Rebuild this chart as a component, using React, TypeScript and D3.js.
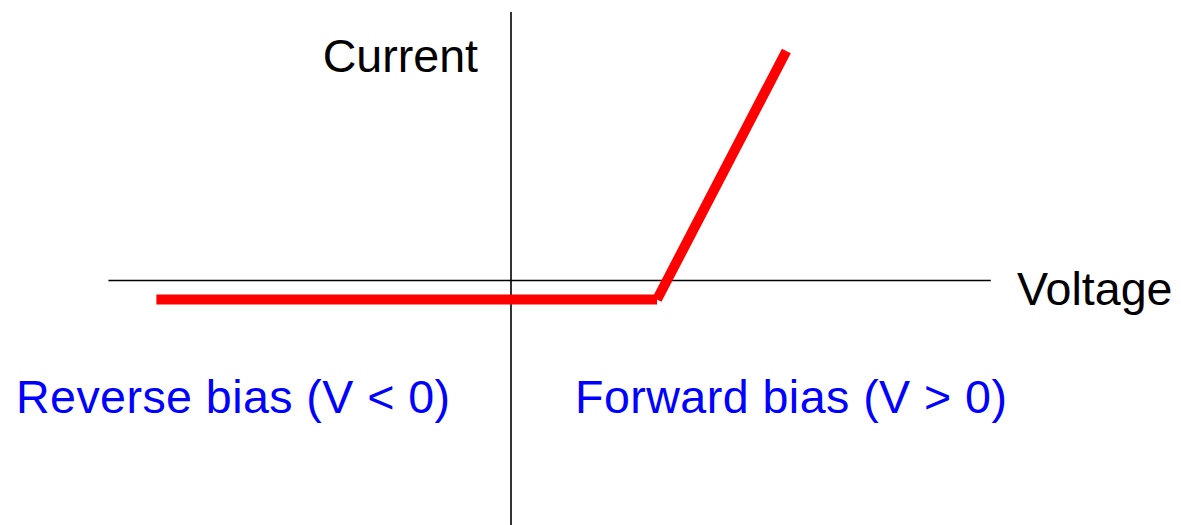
import React from "react";
import * as d3 from "d3";

// Idealised diode I-V characteristic (piecewise linear)
const voltages = [-1.7, 0.7, 1.32];
const currents = [-0.83, -0.83, 10];
const axisLabels = ["Current", "Voltage"];
const regionLabels = ["Reverse bias (V < 0)", "Forward bias (V > 0)"];

const W = 1181;
const H = 525;

export default function App() {
  const x = d3.scaleLinear().domain([0, 1]).range([511, 511 + 208.6]);
  const y = d3.scaleLinear().domain([0, 10]).range([280.5, 51]);

  const pts: [number, number][] = voltages.map((v, i) => [x(v), y(currents[i])]);
  const line = d3.line<[number, number]>();
  const seg1 = line([pts[0], pts[1]]) || "";
  const seg2 = line([pts[1], pts[2]]) || "";

  const font = "'Liberation Sans', Arial, sans-serif";

  return (
    <svg
      width={W}
      height={H}
      style={{ position: "absolute", left: 0, top: 0, background: "#fff" }}
      fontFamily={font}
    >
      {/* axes */}
      <line x1={x(-1.93)} x2={x(2.3)} y1={y(0)} y2={y(0)} stroke="#000" strokeWidth={1.6} />
      <line x1={x(0)} x2={x(0)} y1={12} y2={H} stroke="#000" strokeWidth={1.6} />

      {/* I-V curve */}
      <path d={seg1} stroke="#ff0000" strokeWidth={10} fill="none" strokeLinecap="butt" />
      <path d={seg2} stroke="#ff0000" strokeWidth={10} fill="none" strokeLinecap="butt" />

      {/* labels */}
      <text x={478} y={72} fontSize={46.6} textAnchor="end" fill="#000">
        {axisLabels[0]}
      </text>
      <text x={1017} y={305} fontSize={46.6} fill="#000">
        {axisLabels[1]}
      </text>
      <text x={16} y={413} fontSize={46.6} fill="#0000ff" textLength={434} lengthAdjust="spacing">
        {regionLabels[0]}
      </text>
      <text x={575} y={413} fontSize={46.6} fill="#0000ff" textLength={432} lengthAdjust="spacing">
        {regionLabels[1]}
      </text>
    </svg>
  );
}
